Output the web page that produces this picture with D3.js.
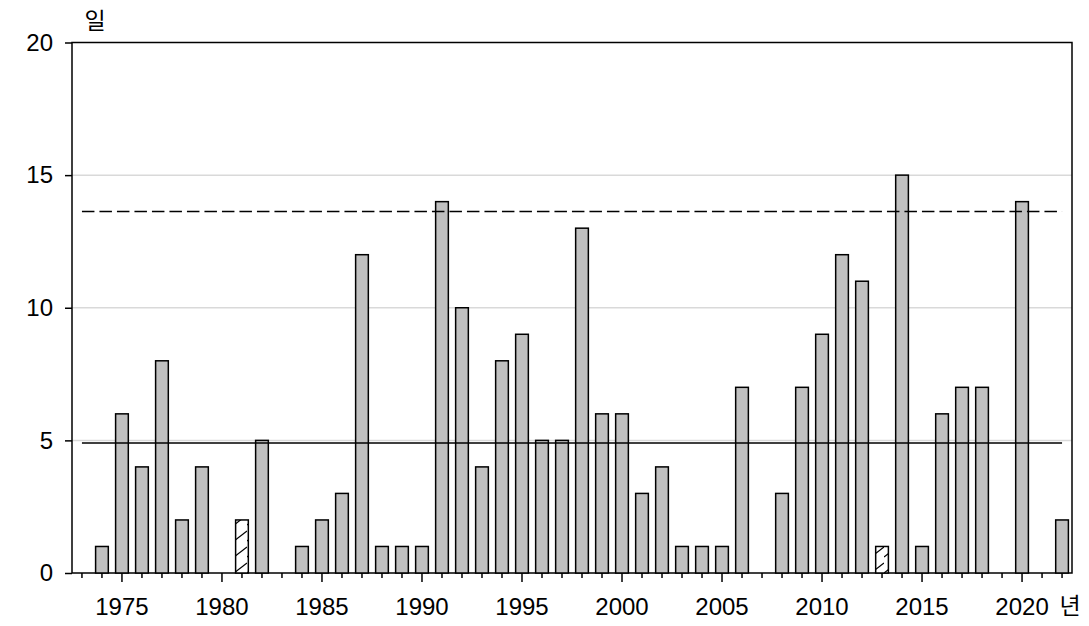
<!DOCTYPE html>
<html><head><meta charset="utf-8">
<script src="https://cdn.jsdelivr.net/npm/d3@7"></script>
<style>body{margin:0;background:#fff}svg{display:block}</style>
</head><body>
<svg id="c" width="1089" height="626"></svg>
<script>
const years = d3.range(1973, 2023);
const values = [0,1,6,4,8,2,4,0,2,5,0,1,2,3,12,1,1,1,14,10,4,8,9,5,5,13,6,6,3,4,1,1,1,7,0,3,7,9,12,11,1,15,1,6,7,7,0,14,0,2];
const hatchedYears = [1981, 2013];
const meanValue = 4.9;
const upperValue = 13.63;
const yTicks = [0,5,10,15,20];
const xLabelYears = [1975,1980,1985,1990,1995,2000,2005,2010,2015,2020];

const svg = d3.select("#c");
const L = 72, R = 1072, T = 42.5, B = 573;
const x = d3.scaleBand().domain(years).range([L, R]).paddingInner(0.365).paddingOuter(0.18);
const xc = d => x(d) + x.bandwidth()/2;
const y = d3.scaleLinear().domain([0,20]).range([B, T]);

const defs = svg.append("defs");
const pat = defs.append("pattern").attr("id","hatch").attr("patternUnits","userSpaceOnUse")
  .attr("width",13).attr("height",16);
pat.append("rect").attr("width",13).attr("height",16).attr("fill","#fff");
pat.append("line").attr("x1",0).attr("y1",13).attr("x2",13).attr("y2",3).attr("stroke","#000").attr("stroke-width",1.2);

// grid
svg.append("g").selectAll("line").data(yTicks.filter(v=>v>0&&v<20)).join("line")
  .attr("x1",L).attr("x2",R).attr("y1",d=>y(d)).attr("y2",d=>y(d))
  .attr("stroke","#d9d9d9").attr("stroke-width",1.5);

// frame
svg.append("rect").attr("x",L).attr("y",T).attr("width",R-L).attr("height",B-T)
  .attr("fill","none").attr("stroke","#000").attr("stroke-width",1.5);

// bars
const data = years.map((yr,i)=>({yr, v: values[i]})).filter(d=>d.v>0);
svg.append("g").selectAll("rect").data(data).join("rect")
  .attr("x",d=>x(d.yr)).attr("width",x.bandwidth())
  .attr("y",d=>y(d.v)).attr("height",d=>y(0)-y(d.v))
  .attr("fill",d=>hatchedYears.includes(d.yr)?"url(#hatch)":"#c0c0c0")
  .attr("stroke","#000").attr("stroke-width",1.5);

// reference lines
svg.append("line").attr("x1",xc(1973)).attr("x2",xc(2022)).attr("y1",y(meanValue)).attr("y2",y(meanValue))
  .attr("stroke","#000").attr("stroke-width",1.5);
svg.append("line").attr("x1",xc(1973)).attr("x2",xc(2022)).attr("y1",y(upperValue)).attr("y2",y(upperValue))
  .attr("stroke","#000").attr("stroke-width",1.5).attr("stroke-dasharray","12.5,5");

// y axis
const yAxis = d3.axisLeft(y).tickValues(yTicks).tickSize(7).tickPadding(12);
const ga = svg.append("g").attr("transform",`translate(${L},0)`).call(yAxis);
ga.select(".domain").remove();
ga.selectAll("line").attr("stroke","#000").attr("stroke-width",1.5);
ga.selectAll("text").attr("font-family","'Liberation Sans', Arial, sans-serif").attr("font-size",24).attr("fill","#000");

// x axis minor & major ticks
const gx = svg.append("g");
gx.selectAll("line").data(years).join("line")
  .attr("x1",d=>xc(d)).attr("x2",d=>xc(d)).attr("y1",B)
  .attr("y2",d=>xLabelYears.includes(d)?B+9:B+5)
  .attr("stroke","#000").attr("stroke-width",1.5);
gx.selectAll("text").data(xLabelYears).join("text")
  .attr("x",d=>xc(d)).attr("y",615).attr("text-anchor","middle")
  .attr("font-family","'Liberation Sans', Arial, sans-serif").attr("font-size",24).attr("fill","#000")
  .text(d=>d);

svg.append("text").attr("x",95).attr("y",29).attr("text-anchor","middle")
  .attr("font-family","'Noto Sans CJK KR', sans-serif").attr("font-size",23).text("일");
svg.append("text").attr("x",1070).attr("y",614).attr("text-anchor","middle")
  .attr("font-family","'Noto Sans CJK KR', sans-serif").attr("font-size",23).text("년");
</script>
</body></html>
